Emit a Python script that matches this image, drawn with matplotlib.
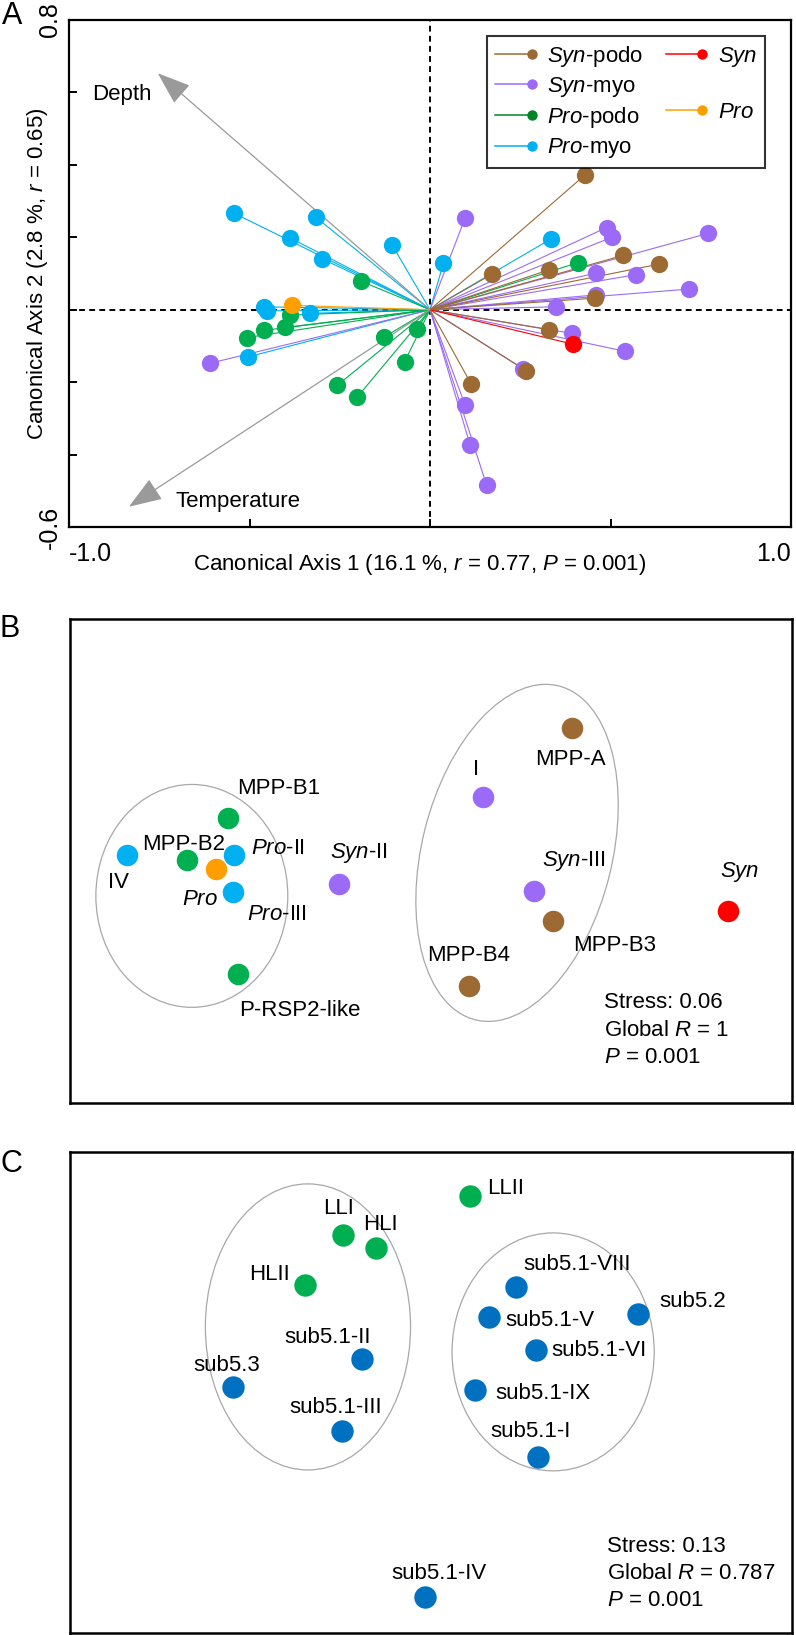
import numpy as np
import matplotlib
matplotlib.use('Agg')
import matplotlib.pyplot as plt
from matplotlib.patches import Ellipse
from matplotlib.lines import Line2D
from matplotlib.legend_handler import HandlerLine2D

plt.rcParams['font.family'] = ['Liberation Sans', 'DejaVu Sans']
plt.rcParams['mathtext.fontset'] = 'custom'
plt.rcParams['mathtext.rm'] = 'Liberation Sans'
plt.rcParams['mathtext.it'] = 'Liberation Sans:italic'
plt.rcParams['mathtext.bf'] = 'Liberation Sans:bold'

# ---------------- Panel A data (CCA scores) ----------------
syn_podo_x = [0.428, 0.173, 0.329, 0.535, 0.635, 0.458, 0.329, 0.265, 0.114]
syn_podo_y = [0.371, 0.099, 0.110, 0.150, 0.126, 0.032, -0.055, -0.168, -0.205]
syn_myo_x = [0.097, 0.489, 0.504, 0.771, 0.461, 0.572, 0.718, 0.461, 0.350,
             0.392, 0.541, 0.258, 0.097, 0.111, 0.157, -0.610]
syn_myo_y = [0.253, 0.227, 0.200, 0.211, 0.101, 0.097, 0.057, 0.041, 0.008,
             -0.065, -0.115, -0.163, -0.263, -0.373, -0.485, -0.148]
pro_podo_x = [-0.192, -0.389, -0.403, -0.459, -0.507, -0.128, -0.037, -0.070,
              -0.257, -0.202, 0.410]
pro_podo_y = [0.079, -0.015, -0.049, -0.057, -0.077, -0.076, -0.054, -0.143,
              -0.209, -0.242, 0.130]
pro_myo_x = [-0.542, -0.317, -0.389, -0.300, -0.105, 0.037, 0.336, -0.459,
             -0.452, -0.333, -0.503]
pro_myo_y = [0.266, 0.256, 0.199, 0.141, 0.179, 0.128, 0.196, 0.008,
             -0.003, -0.010, -0.130]
syn_x = [0.395]
syn_y = [-0.095]
pro_x = [-0.381]
pro_y = [0.012]

env_names = ['Depth', 'Temperature']
env_x = [-0.754, -0.834]
env_y = [0.653, -0.544]

# ---------------- Panel B data (NMDS) ----------------
b_labels = ['MPP-A', 'I', 'MPP-B1', 'IV', 'MPP-B2', 'Pro-II', 'Pro', 'Pro-III',
            'Syn-II', 'Syn-III', 'MPP-B3', 'Syn', 'P-RSP2-like', 'MPP-B4']
b_group = ['Syn-podo', 'Syn-myo', 'Pro-podo', 'Pro-myo', 'Pro-podo', 'Pro-myo',
           'Pro', 'Pro-myo', 'Syn-myo', 'Syn-myo', 'Syn-podo', 'Syn',
           'Pro-podo', 'Syn-podo']
b_x = [0.469, 0.173, -0.675, -1.011, -0.811, -0.655, -0.715, -0.658,
       -0.306, 0.342, 0.406, 0.987, -0.642, 0.126]
b_y = [0.442, 0.213, 0.143, 0.020, 0.003, 0.020, -0.027, -0.103,
       -0.076, -0.100, -0.199, -0.166, -0.376, -0.416]

# ---------------- Panel C data (NMDS) ----------------
c_labels = ['LLII', 'LLI', 'HLI', 'HLII', 'sub5.1-VIII', 'sub5.1-V', 'sub5.2',
            'sub5.1-VI', 'sub5.1-II', 'sub5.3', 'sub5.1-IX', 'sub5.1-III',
            'sub5.1-I', 'sub5.1-IV']
c_group = ['Pro', 'Pro', 'Pro', 'Pro', 'Syn', 'Syn', 'Syn', 'Syn', 'Syn',
           'Syn', 'Syn', 'Syn', 'Syn', 'Syn']
c_x = [0.130, -0.293, -0.183, -0.419, 0.283, 0.193, 0.688, 0.349, -0.229,
       -0.658, 0.146, -0.296, 0.356, -0.020]
c_y = [0.653, 0.524, 0.480, 0.357, 0.351, 0.251, 0.261, 0.141, 0.111,
       0.018, 0.008, -0.128, -0.214, -0.680]

# ---------------- styles ----------------
colors = {'Syn-podo': '#9C6A32', 'Syn-myo': '#9B6BF7', 'Pro-podo': '#00B050',
          'Pro-myo': '#00B0F0', 'Syn': '#FF0000', 'Pro': '#FF9E00'}
legend_colors = dict(colors)
legend_colors['Pro-podo'] = '#00852A'
c_colors = {'Pro': '#00B050', 'Syn': '#0070C0'}

def ital(s):
    # italicise the genus part
    for g in ('Syn', 'Pro'):
        if s.startswith(g):
            return r'$\mathit{' + g + '}$' + s[len(g):]
    return s

# label layout: (dx px, dy px, ha)
b_lab_pos = {'MPP-A': (-2, -29, 'center'), 'I': (-7, 30, 'center'),
             'MPP-B1': (9, 32, 'left'), 'IV': (-8, -25, 'center'),
             'MPP-B2': (-3, 18, 'center'), 'Pro-II': (17, 9, 'left'),
             'Pro': (-16, -28, 'center'), 'Pro-III': (14, -20, 'left'),
             'Syn-II': (-9, 34, 'left'), 'Syn-III': (8, 34, 'left'),
             'MPP-B3': (20, -22, 'left'), 'Syn': (12, 42, 'center'),
             'P-RSP2-like': (1, -34, 'left'), 'MPP-B4': (0, 33, 'center')}
c_lab_pos = {'LLII': (17, 10, 'left'), 'LLI': (-4, 29, 'center'),
             'HLI': (4, 26, 'center'), 'HLII': (-15, 13, 'right'),
             'sub5.1-VIII': (7, 25, 'left'), 'sub5.1-V': (16, -1, 'left'),
             'sub5.2': (21, 15, 'left'), 'sub5.1-VI': (15, 2, 'left'),
             'sub5.1-II': (-35, 24, 'center'), 'sub5.3': (-6, 24, 'center'),
             'sub5.1-IX': (20, -1, 'left'), 'sub5.1-III': (-6, 26, 'center'),
             'sub5.1-I': (-8, 28, 'center'), 'sub5.1-IV': (14, 26, 'center')}

FS = 16
W, H = 796, 1635
fig = plt.figure(figsize=(W / 100, H / 100), dpi=100)

# ================= Panel A =================
axA = fig.add_axes([69 / W, 1 - 527 / H, 722 / W, 507 / H])
axA.set_xlim(-1.0, 1.0)
axA.set_ylim(-0.6, 0.8)
axA.axhline(0, color='black', lw=1.4, ls=(0, (3, 2.2)), zorder=1)
axA.axvline(0, color='black', lw=1.4, ls=(0, (3, 2.2)), zorder=1)

groupsA = [('Pro-myo', pro_myo_x, pro_myo_y), ('Syn-myo', syn_myo_x, syn_myo_y),
           ('Pro-podo', pro_podo_x, pro_podo_y), ('Syn-podo', syn_podo_x, syn_podo_y),
           ('Pro', pro_x, pro_y), ('Syn', syn_x, syn_y)]
for name, xs, ys in groupsA:
    for x, y in zip(xs, ys):
        axA.plot([0, x], [0, y], color=colors[name], lw=0.8, zorder=2)
for name, xs, ys in groupsA:
    axA.scatter(xs, ys, s=155, color=colors[name], linewidths=0, zorder=4)

for nm, ex, ey in zip(env_names, env_x, env_y):
    axA.annotate('', xy=(ex, ey), xytext=(0, 0),
                 arrowprops=dict(arrowstyle='-|>,head_length=1.05,head_width=0.38',
                                 color='#9A9A9A', lw=0.9, mutation_scale=20,
                                 shrinkA=0, shrinkB=0), zorder=3)
axA.text(-0.937, 0.602, 'Depth', fontsize=FS, ha='left', va='center_baseline')
axA.text(-0.706, -0.522, 'Temperature', fontsize=FS, ha='left', va='center_baseline')

axA.set_xticks([-1.0, -0.5, 0, 0.5, 1.0])
axA.set_xticklabels(['-1.0', '', '', '', '1.0'], fontsize=18)
xt = axA.get_xticklabels()
xt[0].set_ha('left')
xt[-1].set_ha('right')
axA.set_yticks([-0.6, -0.4, -0.2, 0, 0.2, 0.4, 0.6, 0.8])
axA.set_yticklabels(['-0.6', '', '', '', '', '', '', '0.8'], fontsize=18,
                    rotation=90, va='center')
axA.tick_params(axis='both', direction='in', length=6, width=1.4)
axA.tick_params(axis='x', pad=11)
axA.tick_params(axis='y', pad=5)
for sp in axA.spines.values():
    sp.set_linewidth(1.6)

axA.text(0.486, -0.067, r'Canonical Axis 1 (16.1 %, $\mathit{r}$ = 0.77, $\mathit{P}$ = 0.001)',
         transform=axA.transAxes, fontsize=FS, ha='center', va='center_baseline')
axA.text(-0.044, 0.5, r'Canonical Axis 2 (2.8 %, $\mathit{r}$ = 0.65)',
         transform=axA.transAxes, fontsize=FS, ha='center', va='center', rotation=90)


class HandlerRightMarker(HandlerLine2D):
    def create_artists(self, legend, orig_handle, xdescent, ydescent,
                       width, height, fontsize, trans):
        y = (height - ydescent) / 2
        line = Line2D([-xdescent, -xdescent + width], [y, y])
        self.update_prop(line, orig_handle, legend)
        line.set_markevery([1])
        line.set_transform(trans)
        return [line]


def lh(name):
    return Line2D([], [], color=legend_colors[name], lw=1.1, marker='o',
                  markersize=7.5, markeredgewidth=0, label=ital(name))

blank = Line2D([], [], color='none', label=' ')
handles = [lh('Syn-podo'), lh('Syn-myo'), lh('Pro-podo'), lh('Pro-myo'),
           lh('Syn'), blank, lh('Pro'), Line2D([], [], color='none', label=' ')]
leg = axA.legend(handles=handles, ncol=2, loc='upper right',
                 bbox_to_anchor=((765 - 69) / 722, 1 - (36 - 20) / 507),
                 borderaxespad=0, fontsize=FS, frameon=True, fancybox=False,
                 handlelength=1.65, handletextpad=0.7, columnspacing=1.0,
                 labelspacing=0.28, borderpad=0.35,
                 handler_map={Line2D: HandlerRightMarker()})
leg.get_frame().set_edgecolor('black')
leg.get_frame().set_linewidth(1.5)
leg.set_zorder(10)

# ================= Panel B =================
axB = fig.add_axes([70 / W, 1 - 1103 / H, 722 / W, 484 / H])
axB.set_xlim(-1.2, 1.2)
axB.set_ylim(-0.8045, 0.8045)
axB.set_xticks([])
axB.set_yticks([])
for sp in axB.spines.values():
    sp.set_linewidth(1.8)
axB.add_patch(Ellipse((-0.795, -0.116), 0.638, 0.741, angle=0, fill=False,
                      edgecolor='#A8A8A8', lw=0.9))
axB.add_patch(Ellipse((0.286, 0.027), 0.632, 1.144, angle=-14, fill=False,
                      edgecolor='#A8A8A8', lw=0.9))
for lab, g, x, y in zip(b_labels, b_group, b_x, b_y):
    axB.scatter([x], [y], s=240, color=colors[g], linewidths=0, zorder=4)
    dx, dy, ha = b_lab_pos[lab]
    axB.annotate(ital(lab), xy=(x, y), xytext=(dx * 0.72, dy * 0.72),
                 textcoords='offset points', ha=ha, va='center_baseline', fontsize=FS)
axB.text(0.740, 0.213, 'Stress: 0.06', transform=axB.transAxes, fontsize=FS,
         ha='left', va='center_baseline')
axB.text(0.740, 0.155, r'Global $\mathit{R}$ = 1', transform=axB.transAxes,
         fontsize=FS, ha='left', va='center_baseline')
axB.text(0.740, 0.099, r'$\mathit{P}$ = 0.001', transform=axB.transAxes,
         fontsize=FS, ha='left', va='center_baseline')

# ================= Panel C =================
axC = fig.add_axes([70 / W, 1 - 1633 / H, 722 / W, 481 / H])
axC.set_xlim(-1.2, 1.2)
axC.set_ylim(-0.7995, 0.7995)
axC.set_xticks([])
axC.set_yticks([])
for sp in axC.spines.values():
    sp.set_linewidth(1.8)
axC.add_patch(Ellipse((-0.409, 0.218), 0.682, 0.951, fill=False,
                      edgecolor='#A8A8A8', lw=0.9))
axC.add_patch(Ellipse((0.406, 0.135), 0.672, 0.791, fill=False,
                      edgecolor='#A8A8A8', lw=0.9))
for lab, g, x, y in zip(c_labels, c_group, c_x, c_y):
    axC.scatter([x], [y], s=260, color=c_colors[g], linewidths=0, zorder=4)
    dx, dy, ha = c_lab_pos[lab]
    axC.annotate(lab, xy=(x, y), xytext=(dx * 0.72, dy * 0.72),
                 textcoords='offset points', ha=ha, va='center_baseline', fontsize=FS)
axC.text(0.744, 0.185, 'Stress: 0.13', transform=axC.transAxes, fontsize=FS,
         ha='left', va='center_baseline')
axC.text(0.744, 0.129, r'Global $\mathit{R}$ = 0.787', transform=axC.transAxes,
         fontsize=FS, ha='left', va='center_baseline')
axC.text(0.744, 0.073, r'$\mathit{P}$ = 0.001', transform=axC.transAxes,
         fontsize=FS, ha='left', va='center_baseline')

# panel letters
fig.text(12 / W, 1 - 24 / H, 'A', fontsize=22, ha='center', va='baseline')
fig.text(10 / W, 1 - 637 / H, 'B', fontsize=22, ha='center', va='baseline')
fig.text(11 / W, 1 - 1172 / H, 'C', fontsize=22, ha='center', va='baseline')

fig.savefig('out.png', dpi=100)
